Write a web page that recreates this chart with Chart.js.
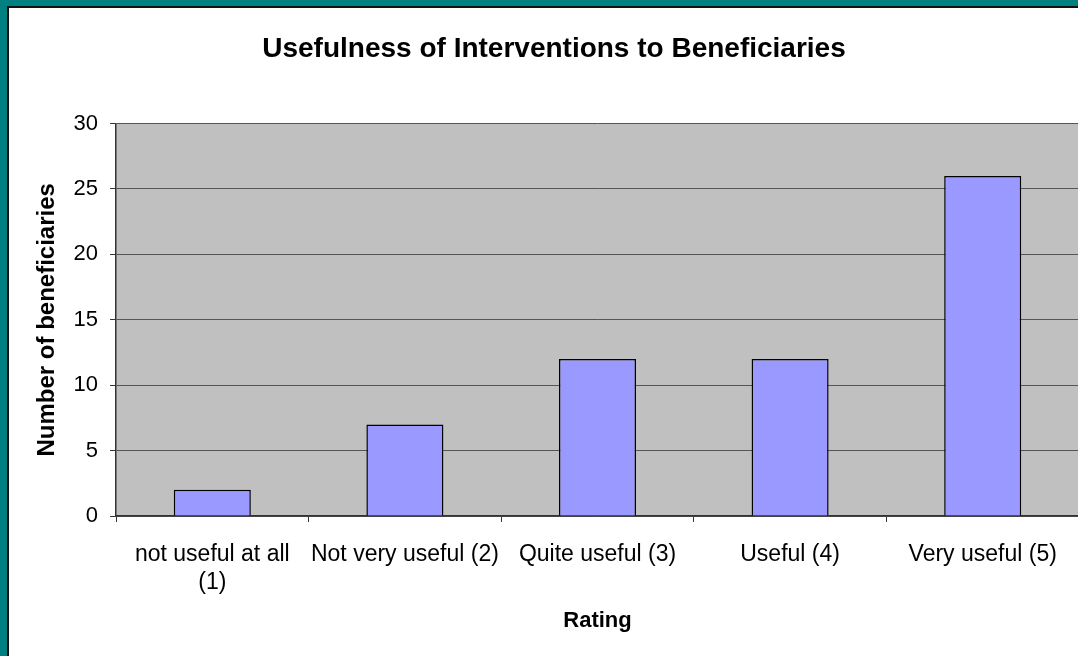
<!DOCTYPE html>
<html>
<head>
<meta charset="utf-8">
<script src="https://cdn.jsdelivr.net/npm/chart.js@4/dist/chart.umd.min.js"></script>
<style>
  html,body{margin:0;padding:0;background:#fff;}
  .frame{position:absolute;left:0;top:0;width:1078px;height:656px;background:#008080;box-sizing:border-box;padding:6px 0 0 7px;overflow:hidden;}
  .inner{width:1071px;height:650px;background:#fff;border-left:2px solid #111;border-top:2px solid #111;overflow:hidden;}
  canvas{display:block;margin-left:-20px;}
</style>
</head>
<body>
<div class="frame"><div class="inner">
  <canvas id="chart" width="1110" height="648"></canvas>
</div></div>
<script>
/* ---------- data ---------- */
const categories = [['not useful at all','(1)'], 'Not very useful (2)', 'Quite useful (3)', 'Useful (4)', 'Very useful (5)'];
const beneficiaries = [2, 7, 12, 12, 26];
const yTicks = [0, 5, 10, 15, 20, 25, 30];

const FONT = "'Liberation Sans', Arial, sans-serif";

/* grey plot area like the old spreadsheet charts */
const plotBg = {
  id:'plotBg',
  beforeDraw(c){
    const a=c.chartArea, x=c.ctx;
    x.save(); x.fillStyle='#C0C0C0'; x.fillRect(a.left,a.top,a.right-a.left,a.bottom-a.top); x.restore();
  }
};

new Chart(document.getElementById('chart'), {
  type:'bar',
  data:{
    labels:categories,
    datasets:[{
      data:beneficiaries,
      backgroundColor:'#9999FF',
      borderColor:'#000',
      borderWidth:1.5,
      categoryPercentage:1,
      barPercentage:0.4
    }]
  },
  options:{
    responsive:false,
    animation:false,
    devicePixelRatio:1,
    layout:{padding:{left:20,right:0,top:0,bottom:0}},
    plugins:{
      legend:{display:false},
      tooltip:{enabled:false},
      title:{
        display:true,
        text:'Usefulness of Interventions to Beneficiaries',
        color:'#000',
        font:{family:FONT,size:28,weight:'bold'},
        padding:{top:24,bottom:58}
      }
    },
    scales:{
      x:{
        grid:{offset:true,drawOnChartArea:false,tickLength:6,tickColor:'#333'},
        border:{color:'#333',width:1.5},
        ticks:{color:'#000',font:{family:FONT,size:23},padding:19,maxRotation:0,autoSkip:false},
        title:{display:true,text:'Rating',color:'#000',font:{family:FONT,size:22,weight:'bold'},padding:{top:0,bottom:22}},
        afterFit(s){ s.height=140; }
      },
      y:{
        min:0,max:30,
        afterBuildTicks(s){ s.ticks=yTicks.map(v=>({value:v})); },
        grid:{color:'#555',lineWidth:1,tickLength:6,tickColor:'#333'},
        border:{color:'#333',width:1.5},
        ticks:{color:'#000',font:{family:FONT,size:22},padding:12},
        title:{display:true,text:'Number of beneficiaries',color:'#000',font:{family:FONT,size:24,weight:'bold'},padding:{top:24,bottom:0}},
        afterFit(s){ s.width=107; }
      },
      /* empty spacer on the right, the original chart runs past the crop */
      spacer:{
        type:'linear',position:'right',
        grid:{display:false},border:{display:false},ticks:{display:false},
        afterFit(s){ s.width=20; }
      }
    }
  },
  plugins:[plotBg]
});
</script>
</body>
</html>
